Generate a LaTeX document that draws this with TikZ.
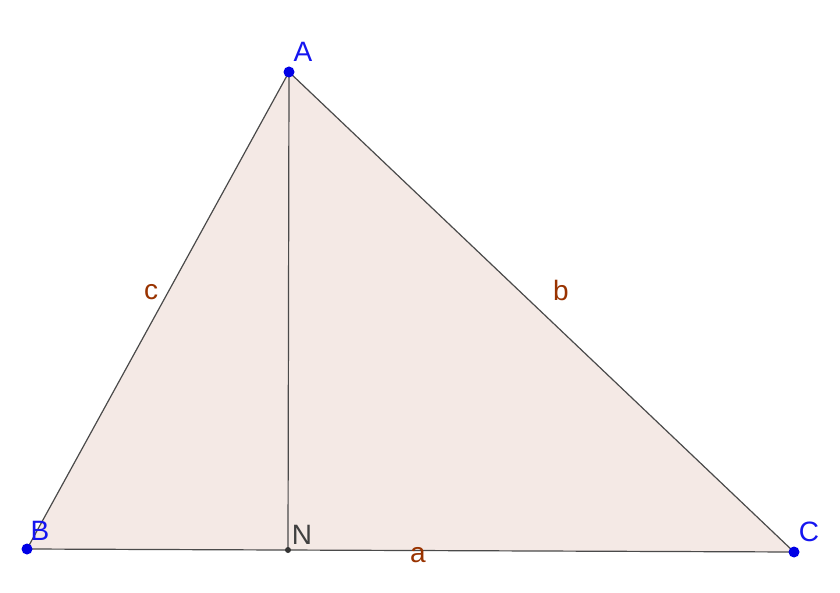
\documentclass[tikz,border=0pt]{standalone}
\usepackage{fontspec}
\setmainfont{Liberation Sans}
\definecolor{fillc}{HTML}{F4E9E5}
\definecolor{linec}{HTML}{4A4A4A}
\definecolor{ptblue}{HTML}{0000E6}
\definecolor{lblblue}{HTML}{1515F0}
\definecolor{brown}{HTML}{993300}
\begin{document}
\begin{tikzpicture}[x=1pt,y=-1pt,
  seg/.style={draw=linec,line width=1.2pt},
  bluept/.style={circle,fill=ptblue,inner sep=0pt,minimum size=11pt},
  blackpt/.style={circle,fill=black!80,inner sep=0pt,minimum size=6pt},
  ptlbl/.style={text=lblblue,font=\fontsize{28}{28}\selectfont,inner sep=0pt},
  sidelbl/.style={text=brown,font=\fontsize{28}{28}\selectfont,inner sep=0pt}]
\useasboundingbox (0,0) rectangle (840,593);
\fill[white] (0,0) rectangle (840,593);
\coordinate (A) at (289,72);
\coordinate (B) at (27,549);
\coordinate (C) at (794,552);
\coordinate (N) at (288,550);
\fill[fillc] (A) -- (B) -- (C) -- cycle;
\draw[seg] (A) -- (B) -- (C) -- cycle;
\draw[seg] (A) -- (N);
\node[bluept] (pA) at (A) {};
\node[bluept] (pB) at (B) {};
\node[bluept] (pC) at (C) {};
\node[blackpt] (pN) at (N) {};
\node[ptlbl] (lA) at (303,52) {A};
\node[ptlbl] (lB) at (40,531) {B};
\node[ptlbl] (lC) at (809,532) {C};
\node[text=black!75,font=\fontsize{28}{28}\selectfont,inner sep=0pt] (lN) at (302,535) {N};
\node[sidelbl] (la) at (418,555) {a};
\node[sidelbl] (lb) at (561,290) {b};
\node[sidelbl] (lc) at (151,292) {c};
\end{tikzpicture}
\end{document}
